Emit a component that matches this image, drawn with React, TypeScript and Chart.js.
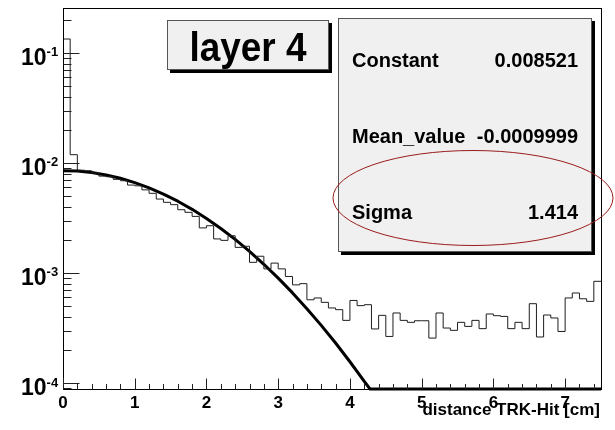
import { useEffect, useRef } from "react";
import { Chart, registerables } from "chart.js";

Chart.register(...registerables);

// ---- data ----
const X_MIN = 0;
const X_MAX = 7.5;
const BIN_WIDTH = 0.1;
const Y_MIN = 8.82e-5;
const Y_MAX = 0.2564;

const histValues = [
  0.134, 0.0119, 0.0086, 0.0085, 0.0081, 0.0076, 0.0075, 0.0071, 0.0069, 0.0063,
  0.0062, 0.0057, 0.0053, 0.0047, 0.00439, 0.00418, 0.00376, 0.00356, 0.00327, 0.00257,
  0.00269, 0.00204, 0.00198, 0.00218, 0.00171, 0.00175, 0.00125, 0.00142, 0.00109, 0.00123,
  0.00109, 0.00093, 0.00078, 0.0008, 0.000571, 0.000593, 0.000541, 0.000481, 0.000464, 0.000371,
  0.000563, 0.000505, 0.000515, 0.00031, 0.000412, 0.000265, 0.000433, 0.000371, 0.000356, 0.000368,
  0.000368, 0.000256, 0.000433, 0.000316, 0.000301, 0.000356, 0.000327, 0.000371, 0.000312, 0.000424,
  0.000409, 0.000403, 0.000312, 0.000356, 0.000312, 0.000526, 0.000262, 0.000415, 0.00039, 0.000294,
  0.000593, 0.000658, 0.000583, 0.000552, 0.00084,
];

const fitX = [
  0, 0.2, 0.4, 0.6, 0.8, 1.0, 1.2, 1.4, 1.6, 1.8, 2.0, 2.2, 2.4, 2.6, 2.8, 3.0, 3.2, 3.4,
  3.6, 3.8, 4.0, 4.2, 4.28, 7.5,
];
const fitY = [
  0.008521, 0.008436, 0.008187, 0.007788, 0.007261, 0.006636, 0.005945, 0.00522, 0.004493,
  0.003791, 0.003135, 0.002541, 0.002019, 0.001572, 0.0012, 0.000898, 0.000659, 0.000474,
  0.000334, 0.000231, 0.000156, 0.0001036, Y_MIN, Y_MIN,
];

const xTicks = [0, 1, 2, 3, 4, 5, 6, 7];
const xTickLabels = ["0", "1", "2", "3", "4", "5", "6", "7"];
const yTicks = [1e-4, 1e-3, 1e-2, 1e-1];
const yTickExponents = ["-4", "-3", "-2", "-1"];

const titleText = "layer 4";
const xAxisTitle = "distance TRK-Hit [cm]";
const statNames = ["Constant", "Mean_value", "Sigma"];
const statValues = ["0.008521", "-0.0009999", "1.414"];

const FONT = "'Liberation Sans', Arial, Helvetica, sans-serif";

export default function App() {
  const ref = useRef<HTMLCanvasElement>(null);

  useEffect(() => {
    document.body.style.margin = "0";
    const canvas = ref.current;
    if (!canvas) return;

    const histPts = histValues.map((v, k) => ({ x: X_MIN + k * BIN_WIDTH, y: v }));
    histPts.push({ x: X_MIN + histValues.length * BIN_WIDTH, y: histValues[histValues.length - 1] });
    const fitPts = fitX.map((x, i) => ({ x, y: fitY[i] }));

    const overlay = {
      id: "rootOverlay",
      afterDraw(chart: any) {
        const ctx = chart.ctx as CanvasRenderingContext2D;
        const a = chart.chartArea;
        const xs = chart.scales.x;
        const ys = chart.scales.y;
        const L = Math.round(a.left) + 0.5;
        const R = Math.round(a.right) + 0.5;
        const T = Math.round(a.top) + 0.5;
        const B = Math.round(a.bottom) + 0.5;
        ctx.save();

        // frame
        ctx.strokeStyle = "#000";
        ctx.lineWidth = 1;
        ctx.strokeRect(L, T, R - L, B - T);

        // x ticks (inside frame)
        ctx.strokeStyle = "#222";
        ctx.beginPath();
        for (let i = 0; i <= Math.round((X_MAX - X_MIN) / 0.2); i++) {
          const v = X_MIN + i * 0.2;
          if (v > X_MAX + 1e-9) break;
          const px = Math.round(xs.getPixelForValue(v)) + 0.5;
          const len = i % 5 === 0 ? 11 : 5.5;
          ctx.moveTo(px, B);
          ctx.lineTo(px, B - len);
        }
        // y ticks
        for (let e = -6; e <= 1; e++) {
          for (let m = 1; m <= 9; m++) {
            const v = m * Math.pow(10, e);
            if (v < Y_MIN || v > Y_MAX) continue;
            const py = Math.round(ys.getPixelForValue(v)) + 0.5;
            const len = m === 1 ? 16 : 8;
            ctx.moveTo(L, py);
            ctx.lineTo(L + len, py);
          }
        }
        ctx.stroke();

        // x tick labels
        ctx.fillStyle = "#000";
        ctx.font = `bold 17px ${FONT}`;
        ctx.textAlign = "center";
        ctx.textBaseline = "alphabetic";
        xTicks.forEach((v, i) => {
          ctx.fillText(xTickLabels[i], xs.getPixelForValue(v), 408);
        });

        // y tick labels 10^n
        yTicks.forEach((v, i) => {
          const py = ys.getPixelForValue(v);
          ctx.textAlign = "left";
          ctx.font = `bold 23px ${FONT}`;
          const w = ctx.measureText("10").width;
          const x0 = 21;
          ctx.fillText("10", x0, py + 12);
          ctx.font = `bold 13px ${FONT}`;
          ctx.fillText(yTickExponents[i], x0 + w, py + 3.5);
        });

        // x axis title
        ctx.font = `bold 17px ${FONT}`;
        ctx.textAlign = "right";
        ctx.fillText(xAxisTitle, 600, 415);

        // title box
        ctx.fillStyle = "#000";
        ctx.fillRect(170, 23, 162, 50);
        ctx.fillStyle = "#f0f0f0";
        ctx.fillRect(167, 20, 162, 50);
        ctx.strokeStyle = "#555";
        ctx.strokeRect(167.5, 20.5, 161, 49);
        ctx.fillStyle = "#000";
        ctx.save();
        ctx.translate(248, 61);
        ctx.scale(0.9, 1);
        ctx.font = `bold 41px ${FONT}`;
        ctx.textAlign = "center";
        ctx.fillText(titleText, 0, 0);
        ctx.restore();

        // stats box
        ctx.fillStyle = "#000";
        ctx.fillRect(341, 21, 254, 234);
        ctx.fillStyle = "#f0f0f0";
        ctx.fillRect(338, 18, 254, 234);
        ctx.strokeStyle = "#555";
        ctx.strokeRect(338.5, 18.5, 253, 233);
        ctx.fillStyle = "#000";
        ctx.font = `bold 20px ${FONT}`;
        const baselines = [67, 143, 219];
        statNames.forEach((n, i) => {
          ctx.textAlign = "left";
          ctx.fillText(n, 352, baselines[i]);
          ctx.textAlign = "right";
          ctx.fillText(statValues[i], 578, baselines[i]);
        });

        // red ellipse
        ctx.strokeStyle = "#9a1c1c";
        ctx.lineWidth = 1;
        ctx.beginPath();
        ctx.ellipse(473, 198, 140, 47.5, 0, 0, Math.PI * 2);
        ctx.stroke();

        ctx.restore();
      },
    };

    const chart = new Chart(canvas, {
      type: "line",
      data: {
        datasets: [
          {
            data: histPts,
            borderColor: "#1e1e1e",
            borderWidth: 1,
            stepped: "before",
            pointRadius: 0,
            fill: false,
            tension: 0,
          },
          {
            data: fitPts,
            borderColor: "#000",
            borderWidth: 3,
            pointRadius: 0,
            fill: false,
            tension: 0,
            clip: false,
            borderJoinStyle: "round",
          },
        ],
      } as any,
      options: {
        responsive: false,
        animation: false,
        devicePixelRatio: 1,
        events: [],
        layout: { padding: { left: 63, top: 8, right: 14, bottom: 41 } },
        plugins: { legend: { display: false }, tooltip: { enabled: false } },
        scales: {
          x: { type: "linear", min: X_MIN, max: X_MAX, display: false },
          y: { type: "logarithmic", min: Y_MIN, max: Y_MAX, display: false },
        },
      } as any,
      plugins: [overlay],
    });

    return () => chart.destroy();
  }, []);

  return <canvas ref={ref} width={615} height={430} style={{ display: "block" }} />;
}
